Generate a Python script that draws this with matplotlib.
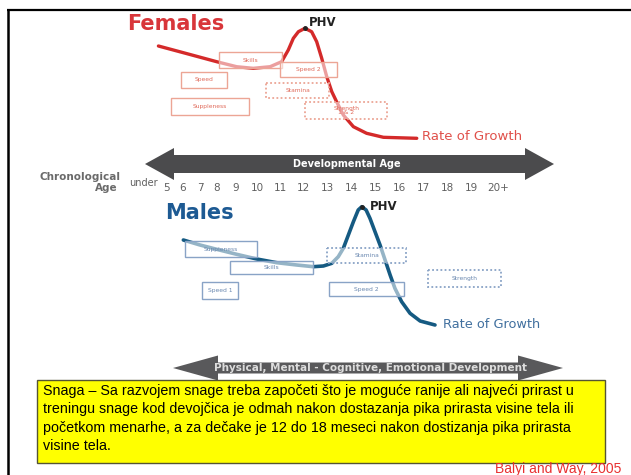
import numpy as np
import matplotlib.pyplot as plt
from matplotlib.patches import Rectangle, Polygon

# chronological age axis
ages = [4, 5, 6, 7, 8, 9, 10, 11, 12, 13, 14, 15, 16, 17, 18, 19, 20]
age_labels = ['under', '5', '6', '7', '8', '9', '10', '11', '12', '13', '14',
              '15', '16', '17', '18', '19', '20+']
# where each age sits across the slide (px) - spacing is uneven in the original
age_px = [143, 166, 183, 200, 217, 236, 257, 280, 303, 327, 351, 375, 399, 423, 447, 471, 498]

# rate of growth, females (age, relative rate)
fem_age = [4.67, 6.02, 7.98, 9.03, 9.82, 10.57, 11.07, 11.36, 11.58, 11.80, 12.08,
           12.36, 12.57, 12.78, 12.99, 13.20, 13.40, 13.68, 14.10, 14.65, 15.35, 16.74]
fem_rate = [9.4, 8.73, 7.83, 7.33, 7.17, 7.33, 7.83, 9.0, 10.17, 10.83, 11.17,
            10.83, 9.83, 8.17, 6.33, 4.83, 3.83, 2.5, 1.33, 0.67, 0.27, 0.17]

# rate of growth, males
male_age = [6.02, 7.0, 7.98, 9.03, 9.99, 10.86, 11.73, 12.43, 12.85, 13.20, 13.47, 13.68,
            13.89, 14.10, 14.30, 14.45, 14.63, 14.79, 15.0, 15.21, 15.42, 15.63, 15.83,
            16.11, 16.46, 16.88, 17.5]
male_rate = [9.0, 8.5, 8.07, 7.57, 7.1, 6.73, 6.5, 6.33, 6.4, 6.67, 7.33, 8.17,
             9.5, 10.83, 12.0, 12.33, 12.0, 11.17, 9.83, 8.5, 7.0, 5.5, 4.17,
             2.83, 1.67, 0.9, 0.5]

# training windows (from age, to age)
fem_windows = ['Skills', 'Speed 2', 'Speed', 'Stamina', 'Suppleness', 'Strength\n1 & 2']
fem_from = [8.1, 11.0, 5.9, 10.4, 5.3, 12.1]
fem_to = [11.1, 13.4, 8.5, 13.1, 9.6, 15.5]
fem_dotted = [False, False, False, True, False, True]

male_windows = ['Suppleness', 'Skills', 'Speed 1', 'Stamina', 'Speed 2', 'Strength']
male_from = [6.1, 8.7, 7.1, 13.0, 13.1, 17.2]
male_to = [10.0, 12.4, 9.1, 16.3, 16.2, 20.1]
male_dotted = [False, False, False, True, False, True]

note_lines = [
    'Snaga – Sa razvojem snage treba započeti što je moguće ranije ali najveći prirast u',
    'treningu snage kod devojčica je odmah nakon dostazanja pika prirasta visine tela ili',
    'početkom menarhe, a za dečake je 12 do 18 meseci nakon dostizanja pika prirasta',
    'visine tela.',
]

# layout (px)
fem_rows = [(52, 68), (62, 77), (72, 88), (83, 98), (98, 115), (102, 119)]
male_rows = [(241, 257), (261, 274), (282, 299), (248, 263), (282, 296), (270, 287)]

W, H = 631, 475
ext_a = np.r_[-16, ages, 40]
ext_p = np.r_[143 - 20 * 23, age_px, 498 + 20 * 27]


def fwd(a):
    return np.interp(a, ext_a, ext_p)


def inv(p):
    return np.interp(p, ext_p, ext_a)


fig = plt.figure(figsize=(W / 100, H / 100), dpi=100)
fig.patch.set_facecolor('white')


def panel(top, bottom, ymax):
    a = fig.add_axes([0, 1 - bottom / H, 1, (bottom - top) / H], zorder=1)
    a.set_xscale('function', functions=(fwd, inv))
    a.set_xlim(inv(0), inv(W))
    a.set_ylim(0, ymax)
    a.axis('off')
    return a


axf = panel(20, 140, 12)
axm = panel(200, 330, 13)

axf.plot(fem_age, fem_rate, color='#d42a2a', lw=2.4, solid_capstyle='round')
i = int(np.argmax(fem_rate))
axf.plot(fem_age[i], fem_rate[i], 'o', color='#222222', ms=2.5)
axm.plot(male_age, male_rate, color='#155a82', lw=2.6, solid_capstyle='round')
i = int(np.argmax(male_rate))
axm.plot(male_age[i], male_rate[i], 'o', color='#222222', ms=2.5)

# overlay in slide pixels
ax = fig.add_axes([0, 0, 1, 1], zorder=2)
ax.set_xlim(0, W)
ax.set_ylim(H, 0)
ax.axis('off')


def boxes(labels, a0s, a1s, rows, dotted, ec, tc):
    for lab, a0, a1, (y0, y1), dot in zip(labels, a0s, a1s, rows, dotted):
        x0, x1 = fwd(a0), fwd(a1)
        ax.add_patch(Rectangle((x0, y0), x1 - x0, y1 - y0, facecolor=(1, 1, 1, 0.55),
                               edgecolor=ec, lw=1.3 if dot else 1.0,
                               ls=(0, (1, 1.3)) if dot else '-'))
        ax.text((x0 + x1) / 2, (y0 + y1) / 2, lab, fontsize=4.3, color=tc,
                ha='center', va='center', linespacing=0.9)


boxes(fem_windows, fem_from, fem_to, fem_rows, fem_dotted, '#eca595', '#e06a5a')
boxes(male_windows, male_from, male_to, male_rows, male_dotted, '#89a3c6', '#6a88b0')


def double_arrow(x0, x1, yc, body, head, hlen, color):
    pts = [(x0, yc), (x0 + hlen, yc - head / 2), (x0 + hlen, yc - body / 2),
           (x1 - hlen, yc - body / 2), (x1 - hlen, yc - head / 2), (x1, yc),
           (x1 - hlen, yc + head / 2), (x1 - hlen, yc + body / 2),
           (x0 + hlen, yc + body / 2), (x0 + hlen, yc + head / 2)]
    ax.add_patch(Polygon(pts, closed=True, facecolor=color, edgecolor='none'))


double_arrow(145, 554, 164, 18, 32, 29, '#4b4b4d')
double_arrow(173, 563, 368, 11, 25, 45, '#59595b')

ax.text(347, 164, 'Developmental Age', color='white', fontsize=7, fontweight='bold',
        ha='center', va='center')
ax.text(371, 368, 'Physical, Mental - Cognitive, Emotional Development', color='#dddddd',
        fontsize=7.5, fontweight='bold', ha='center', va='center')

# age labels
ax.text(120, 177, 'Chronological', ha='right', va='center', fontsize=7.5,
        fontweight='bold', color='#6a6a6a')
ax.text(118, 188, 'Age', ha='right', va='center', fontsize=7.5,
        fontweight='bold', color='#6a6a6a')
for a, lab in zip(ages, age_labels):
    if lab == 'under':
        ax.text(fwd(a), 183, lab, ha='center', va='center', fontsize=7, color='#606060')
    else:
        ax.text(fwd(a), 188, lab, ha='center', va='center', fontsize=7.5, color='#606060')

# titles
ax.text(127, 24, 'Females', fontsize=15, fontweight='bold', color='#d8363a', va='center')
ax.text(309, 23, 'PHV', fontsize=8.5, fontweight='bold', color='#222222', va='center')
ax.text(422, 137, 'Rate of Growth', fontsize=9.5, color='#e0504a', va='center')
ax.text(165, 213, 'Males', fontsize=15, fontweight='bold', color='#1d5a93', va='center')
ax.text(370, 207, 'PHV', fontsize=8.5, fontweight='bold', color='#222222', va='center')
ax.text(443, 324, 'Rate of Growth', fontsize=9.3, color='#41709f', va='center')

# note box
note_font = ['Liberation Sans', 'DejaVu Sans']
ax.add_patch(Rectangle((37, 380), 568, 83, facecolor='#ffff00', edgecolor='#555533', lw=1))
for k, line in enumerate(note_lines):
    ax.text(43, 391 + k * 18.5, line, va='center', fontsize=10.3, family=note_font,
            color='black')
ax.text(621, 462, 'Balyi and Way, 2005', ha='right', va='top', fontsize=10,
        family=note_font, color='#e83030')

# slide frame
ax.plot([7, W], [9.5, 9.5], color='black', lw=1.6, solid_capstyle='butt')
ax.plot([7.5, 7.5], [9, H], color='black', lw=1.8, solid_capstyle='butt')

fig.savefig('out.png', dpi=100)
